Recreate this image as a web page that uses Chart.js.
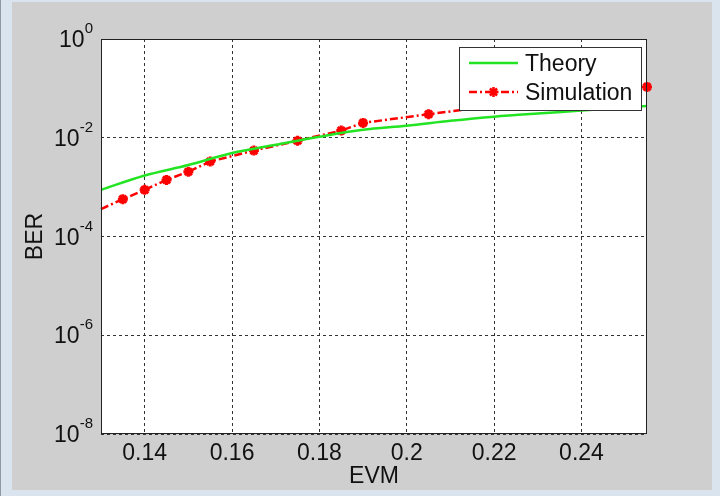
<!doctype html>
<html lang="en">
<head>
    <title>BER vs EVM</title>
    <meta charset="utf-8" />
    <script src="https://cdn.jsdelivr.net/npm/chart.js@4.4.1/dist/chart.umd.min.js"></script>
    <style>
        body { margin: 0; width: 720px; height: 496px; background: #dae4ef; position: relative; overflow: hidden; }
        #frame { position: absolute; left: 12px; top: 2px; width: 700px; height: 488px; background: #cfcfcf; }
        #edge { position: absolute; left: 0; top: 0; width: 1px; height: 496px; background: #8f99a3; }
        #berChart { position: absolute; left: 0; top: 0; }
    </style>
</head>
<body>
    <div id="frame"></div>
    <div id="edge"></div>
    <canvas id="berChart" width="720" height="496"></canvas>

    <script>
        // tick positions and labels
        const evmTicks = [0.14, 0.16, 0.18, 0.2, 0.22, 0.24];
        const evmLabels = ['0.14', '0.16', '0.18', '0.2', '0.22', '0.24'];
        const berTicks = [1e-8, 1e-6, 1e-4, 1e-2, 1];
        const berExponents = ['-8', '-6', '-4', '-2', '0'];

        // Theory curve
        const theoryEvm = [0.13, 0.14, 0.15, 0.16, 0.17, 0.18, 0.19, 0.20, 0.21, 0.22, 0.23, 0.24, 0.25, 0.255];
        const theoryBer = [8.8e-4, 1.72e-3, 2.8e-3, 4.9e-3, 7.2e-3, 1.05e-2, 1.45e-2, 1.75e-2, 2.2e-2, 2.67e-2, 3.1e-2, 3.55e-2, 4.1e-2, 4.4e-2];

        // Simulation points
        const simEvm = [0.13, 0.135, 0.14, 0.145, 0.15, 0.155, 0.165, 0.175, 0.185, 0.19, 0.205, 0.255];
        const simBer = [3.6e-4, 5.7e-4, 8.8e-4, 1.4e-3, 2.05e-3, 3.3e-3, 5.5e-3, 8.7e-3, 1.4e-2, 2.0e-2, 3.0e-2, 0.107];

        const labelFont = '"Liberation Sans", Arial, sans-serif';

        const matlabAxes = {
            id: 'matlabAxes',
            beforeDraw(chart) {
                const { ctx, chartArea: a } = chart;
                ctx.save();
                ctx.fillStyle = '#ffffff';
                ctx.fillRect(a.left, a.top, a.right - a.left, a.bottom - a.top);
                ctx.restore();
            },
            afterDraw(chart) {
                const { ctx, chartArea: a } = chart;
                const yScale = chart.scales.y;
                ctx.save();

                // box around the axes
                ctx.strokeStyle = '#222';
                ctx.lineWidth = 1;
                ctx.strokeRect(a.left + 0.5, a.top + 0.5, a.right - a.left - 1, a.bottom - a.top - 1);

                // y tick labels 10^n
                ctx.fillStyle = '#111';
                const right = 93;
                berTicks.forEach((v, i) => {
                    const y = yScale.getPixelForValue(v);
                    ctx.font = '15px ' + labelFont;
                    const expW = ctx.measureText(berExponents[i]).width;
                    ctx.textAlign = 'left';
                    ctx.textBaseline = 'alphabetic';
                    ctx.fillText(berExponents[i], right - expW, y - 6);
                    ctx.font = '23px ' + labelFont;
                    ctx.textAlign = 'right';
                    ctx.fillText('10', right - expW, y + 8);
                });

                // axis titles
                ctx.font = '23px ' + labelFont;
                ctx.textAlign = 'center';
                ctx.fillText('EVM', (a.left + a.right) / 2, 483);
                ctx.save();
                ctx.translate(42, (a.top + a.bottom) / 2);
                ctx.rotate(-Math.PI / 2);
                ctx.fillText('BER', 0, 0);
                ctx.restore();

                // legend box
                const lx = 459, ly = 47, lw = 182, lh = 63;
                ctx.fillStyle = '#ffffff';
                ctx.fillRect(lx, ly, lw, lh);
                ctx.strokeStyle = '#333';
                ctx.lineWidth = 1;
                ctx.strokeRect(lx + 0.5, ly + 0.5, lw, lh);
                const rows = [63, 92];
                chart.data.datasets.forEach((ds, i) => {
                    const y = rows[i];
                    ctx.strokeStyle = ds.borderColor;
                    ctx.lineWidth = ds.borderWidth;
                    ctx.setLineDash(ds.borderDash || []);
                    ctx.beginPath();
                    ctx.moveTo(469, y);
                    ctx.lineTo(518, y);
                    ctx.stroke();
                    ctx.setLineDash([]);
                    if (ds.pointStyle) {
                        ctx.fillStyle = ds.pointBackgroundColor;
                        Chart.helpers.drawPoint(ctx, {
                            pointStyle: ds.pointStyle,
                            radius: 5,
                            borderWidth: ds.pointBorderWidth,
                            rotation: 0
                        }, 493.5, y);
                    }
                    ctx.fillStyle = '#111';
                    ctx.font = '23px ' + labelFont;
                    ctx.textAlign = 'left';
                    ctx.fillText(ds.label, 525, y + 8);
                });
                ctx.restore();
            }
        };

        const ctx = document.getElementById('berChart').getContext('2d');
        const berChart = new Chart(ctx, {
            type: 'scatter',
            data: {
                datasets: [
                    {
                        label: 'Theory',
                        data: theoryEvm.map((x, i) => ({ x: x, y: theoryBer[i] })),
                        showLine: true,
                        borderColor: '#22e422',
                        borderWidth: 2.5,
                        pointRadius: 0,
                        cubicInterpolationMode: 'monotone'
                    },
                    {
                        label: 'Simulation',
                        data: simEvm.map((x, i) => ({ x: x, y: simBer[i] })),
                        showLine: true,
                        borderColor: '#ff0000',
                        backgroundColor: '#ff0000',
                        borderWidth: 2.5,
                        borderDash: [8, 3, 2, 3],
                        pointStyle: 'star',
                        pointRadius: (c) => c.dataIndex === 0 ? 0 : 5,
                        pointBorderWidth: 3,
                        pointBorderColor: '#ff0000',
                        pointBackgroundColor: '#ff0000',
                        clip: false
                    }
                ]
            },
            options: {
                responsive: false,
                animation: false,
                layout: { padding: { left: 0, top: 39, right: 73, bottom: 0 } },
                plugins: {
                    legend: { display: false },
                    tooltip: { enabled: false }
                },
                scales: {
                    x: {
                        type: 'linear',
                        min: 0.13,
                        max: 0.255,
                        afterBuildTicks: (scale) => { scale.ticks = evmTicks.map(v => ({ value: v })); },
                        afterFit: (scale) => { scale.height = 62; },
                        grid: { color: '#333', lineWidth: 1, drawTicks: false },
                        border: { display: false, dash: [3, 3] },
                        ticks: {
                            padding: 6,
                            color: '#111',
                            font: { family: labelFont, size: 23 },
                            maxRotation: 0,
                            callback: (v, i) => evmLabels[i]
                        }
                    },
                    y: {
                        type: 'logarithmic',
                        min: 1e-8,
                        max: 1,
                        afterBuildTicks: (scale) => { scale.ticks = berTicks.map(v => ({ value: v })); },
                        afterFit: (scale) => { scale.width = 101; },
                        grid: { color: '#333', lineWidth: 1, drawTicks: false },
                        border: { display: false, dash: [3, 3] },
                        ticks: { display: false }
                    }
                }
            },
            plugins: [matlabAxes]
        });
    </script>
</body>
</html>
